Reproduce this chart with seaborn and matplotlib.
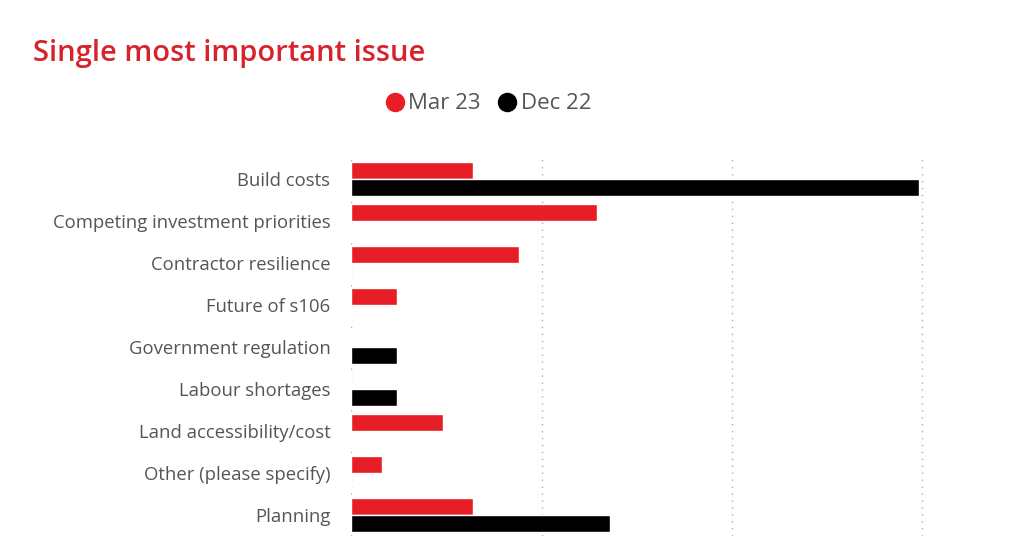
import matplotlib
matplotlib.use("Agg")
import matplotlib.pyplot as plt
import pandas as pd
import seaborn as sns
from matplotlib.lines import Line2D

issues = ["Build costs", "Competing investment priorities", "Contractor resilience",
          "Future of s106", "Government regulation", "Labour shortages",
          "Land accessibility/cost", "Other (please specify)", "Planning"]
mar_23 = [12.8, 25.8, 17.6, 4.8, 0, 0, 9.6, 3.2, 12.8]
dec_22 = [59.6, 0, 0, 0, 4.8, 4.8, 0, 0, 27.2]
periods = ["Mar 23", "Dec 22"]
colours = {"Mar 23": "#E81E26", "Dec 22": "#000000"}

df = pd.DataFrame({
    "issue": issues * 2,
    "period": ["Mar 23"] * len(issues) + ["Dec 22"] * len(issues),
    "value": mar_23 + dec_22,
})

sns.set_style("white")
plt.rcParams["font.family"] = ["Open Sans", "DejaVu Sans"]

fig = plt.figure(figsize=(10.24, 5.36), dpi=100)
ax = fig.add_axes([0.343, 0.0, 0.58, 0.705])

sns.barplot(data=df, y="issue", x="value", hue="period", order=issues,
            hue_order=periods, palette=colours, orient="h", width=0.8,
            saturation=1, legend=False, ax=ax)

ax.set_xlim(0, 62.4)
ax.set_ylim(8.5, -0.5)
ax.set_xticks([0, 20, 40, 60])
ax.xaxis.grid(True, linestyle=(0, (1, 4)), color="#b0b0b0", linewidth=1)
ax.set_axisbelow(True)
ax.set_xticklabels([])
ax.set_xlabel("")
ax.set_ylabel("")
ax.tick_params(axis="both", length=0)
ax.tick_params(axis="y", labelsize=13.3, labelcolor="#555555", pad=15)
for s in ax.spines.values():
    s.set_visible(False)

fig.text(0.032, 0.9, "Single most important issue", color="#D7232B",
         fontsize=21, fontweight="semibold", ha="left", va="center")

handles = [Line2D([], [], marker="o", linestyle="", markersize=13,
                  color=colours[p], label=p) for p in periods]
fig.legend(handles=handles, loc="center", bbox_to_anchor=(0.475, 0.806),
           ncol=2, frameon=False, fontsize=16, labelcolor="#555555",
           handletextpad=0.0, columnspacing=0.6, handlelength=1.2)

fig.savefig("out.png", dpi=100)
